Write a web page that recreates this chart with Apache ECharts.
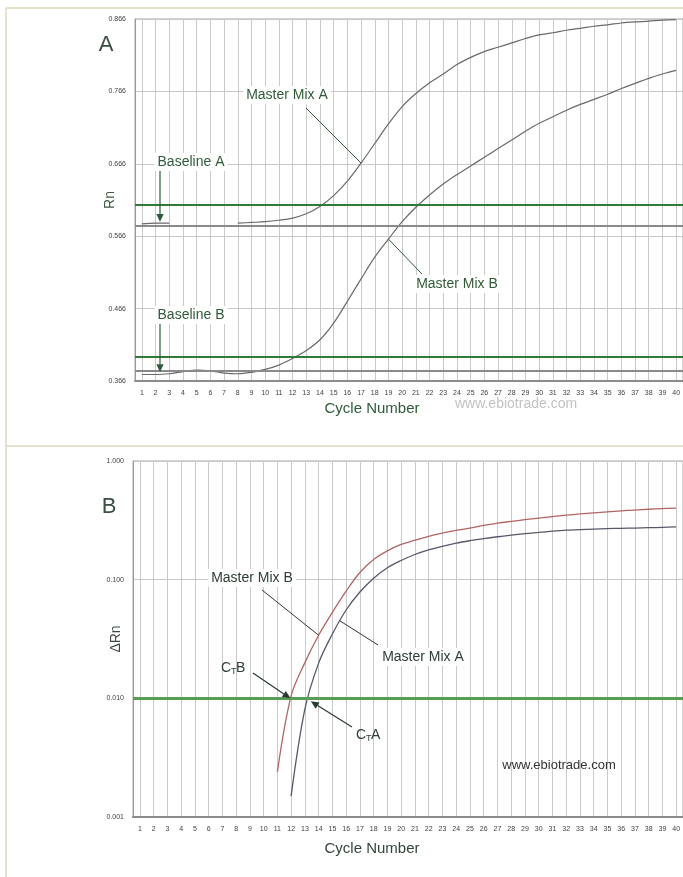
<!DOCTYPE html>
<html>
<head>
<meta charset="utf-8">
<script src="https://cdn.jsdelivr.net/npm/echarts@6/dist/echarts.min.js"></script>
<style>
  html, body { margin: 0; padding: 0; background: #fff; overflow: hidden; }
  #chart { width: 683px; height: 877px; }
</style>
</head>
<body>
<div id="chart"></div>
<script>
// Cycle numbers shared by both amplification plots
const cycles = ['1','2','3','4','5','6','7','8','9','10','11','12','13','14','15','16','17','18','19','20',
                '21','22','23','24','25','26','27','28','29','30','31','32','33','34','35','36','37','38','39','40'];

// Panel A: raw reporter signal (Rn)
const rnTicks = [0.366, 0.466, 0.566, 0.666, 0.766, 0.866];
const rnMixA = [0.583, 0.584, 0.584, null, null, null, null, 0.584, 0.585, 0.586,
                0.588, 0.591, 0.597, 0.607, 0.622, 0.642, 0.667, 0.694, 0.721, 0.745,
                0.763, 0.778, 0.790, 0.803, 0.813, 0.821, 0.827, 0.833, 0.839, 0.844,
                0.847, 0.8505, 0.853, 0.856, 0.858, 0.8605, 0.862, 0.863, 0.8645, 0.865];
const rnMixB = [0.375, 0.375, 0.376, 0.379, 0.381, 0.380, 0.377, 0.376, 0.378, 0.382,
                0.388, 0.397, 0.408, 0.423, 0.446, 0.476, 0.507, 0.537, 0.562, 0.586,
                0.606, 0.623, 0.638, 0.651, 0.663, 0.675, 0.687, 0.699, 0.711, 0.722,
                0.731, 0.740, 0.748, 0.755, 0.762, 0.770, 0.777, 0.784, 0.790, 0.795];
const rnThresholdA = 0.608;
const rnBaselineA = 0.5842;
const rnThresholdB = 0.399;
const rnBaselineB = 0.3766;

// Panel B: normalised signal (ΔRn), log scale
const dRnMixA = [null, null, null, null, null, null, null, null, null, null,
                 null, 0.0015, 0.0081, 0.0198, 0.0348, 0.0555, 0.0787, 0.103, 0.126, 0.145,
                 0.163, 0.178, 0.191, 0.203, 0.213, 0.222, 0.230, 0.237, 0.244, 0.250,
                 0.256, 0.261, 0.264, 0.267, 0.269, 0.271, 0.272, 0.274, 0.276, 0.278];
const dRnMixB = [null, null, null, null, null, null, null, null, null, null,
                 0.0024, 0.0105, 0.020, 0.034, 0.053, 0.080, 0.115, 0.148, 0.175, 0.198,
                 0.215, 0.232, 0.247, 0.260, 0.272, 0.287, 0.299, 0.310, 0.320, 0.330,
                 0.340, 0.350, 0.358, 0.366, 0.373, 0.380, 0.386, 0.392, 0.397, 0.401];
const dRnThreshold = 0.0098;
const dRnBaseline = 0.0015;

const FONT = 'Liberation Sans, Arial, sans-serif';
const GREEN = '#2f7a3a';
const TEXT_GREEN = '#2f5a37';
const GRID = '#cacaca';

const chart = echarts.init(document.getElementById('chart'), null, { renderer: 'canvas' });

function xAxisFor(g) {
  return {
    type: 'category', gridIndex: g, data: cycles, boundaryGap: true,
    axisLine: { lineStyle: { color: '#8c8c8c', width: 2 } },
    axisTick: { show: false },
    axisLabel: { interval: 0, fontSize: 7, color: '#3e3e3e', margin: 9, fontFamily: FONT },
    splitLine: { show: true, interval: 0, alignWithLabel: true, lineStyle: { color: GRID, width: 1 } }
  };
}

const option = {
  animation: false,
  backgroundColor: '#ffffff',
  grid: [
    { left: 135, top: 19, width: 556, height: 362, show: true, borderColor: '#a8a8a8', borderWidth: 1 },
    { left: 133, top: 461, width: 562, height: 356, show: true, borderColor: '#a8a8a8', borderWidth: 1 }
  ],
  xAxis: [xAxisFor(0), xAxisFor(1)],
  yAxis: [
    {
      type: 'value', gridIndex: 0, min: 0.366, max: 0.866,
      name: 'Rn', nameLocation: 'middle', nameGap: 18, nameRotate: 90, nameMoveOverlap: false,
      nameTextStyle: { fontSize: 14, color: '#3d5a45', fontFamily: FONT },
      axisLine: { show: true, lineStyle: { color: '#9a9a9a', width: 1 } },
      axisTick: { show: false, customValues: rnTicks },
      axisLabel: { customValues: rnTicks, formatter: v => v.toFixed(3), fontSize: 7, color: '#3e3e3e', margin: 9, fontFamily: FONT },
      splitLine: { show: true, lineStyle: { color: GRID, width: 1 } }
    },
    {
      type: 'log', gridIndex: 1, logBase: 10, min: 0.001, max: 1,
      name: 'ΔRn', nameLocation: 'middle', nameGap: 10, nameRotate: 90, nameMoveOverlap: false,
      nameTextStyle: { fontSize: 14, color: '#3f4a44', fontFamily: FONT },
      axisLine: { show: true, lineStyle: { color: '#9a9a9a', width: 1 } },
      axisTick: { show: false },
      axisLabel: { formatter: v => Number(v).toFixed(3), fontSize: 7, color: '#3e3e3e', margin: 9, fontFamily: FONT },
      splitLine: { show: true, lineStyle: { color: GRID, width: 1 } }
    }
  ],
  series: [
    {
      name: 'Master Mix A', type: 'line', xAxisIndex: 0, yAxisIndex: 0, data: rnMixA,
      showSymbol: false, smooth: 0.35, connectNulls: false, lineStyle: { color: '#6a6a6a', width: 1.2 }, z: 3,
      markLine: {
        silent: true, symbol: ['none', 'none'], label: { show: false }, animation: false,
        data: [
          { yAxis: rnThresholdA, lineStyle: { color: GREEN, width: 2, type: 'solid' } },
          { yAxis: rnBaselineA, lineStyle: { color: '#8a8a8a', width: 2, type: 'solid' } }
        ]
      }
    },
    {
      name: 'Master Mix B', type: 'line', xAxisIndex: 0, yAxisIndex: 0, data: rnMixB,
      showSymbol: false, smooth: 0.35, lineStyle: { color: '#6a6a6a', width: 1.2 }, z: 3,
      markLine: {
        silent: true, symbol: ['none', 'none'], label: { show: false }, animation: false,
        data: [
          { yAxis: rnThresholdB, lineStyle: { color: GREEN, width: 2, type: 'solid' } },
          { yAxis: rnBaselineB, lineStyle: { color: '#8a8a8a', width: 2, type: 'solid' } }
        ]
      }
    },
    {
      name: 'Master Mix A ΔRn', type: 'line', xAxisIndex: 1, yAxisIndex: 1, data: dRnMixA,
      showSymbol: false, smooth: 0.35, lineStyle: { color: '#55586a', width: 1.3 }, z: 3,
      markLine: {
        silent: true, symbol: ['none', 'none'], label: { show: false }, animation: false,
        data: [
          { yAxis: dRnThreshold, lineStyle: { color: '#5a9e55', width: 3, type: 'solid' } },
          { yAxis: dRnBaseline, lineStyle: { color: '#1f4a2a', width: 3, type: 'solid' } }
        ]
      }
    },
    {
      name: 'Master Mix B ΔRn', type: 'line', xAxisIndex: 1, yAxisIndex: 1, data: dRnMixB,
      showSymbol: false, smooth: 0.35, lineStyle: { color: '#b26464', width: 1.3 }, z: 3
    }
  ]
};
chart.setOption(option);

// ---- annotations (callouts, arrows, titles, frame) ----
const P = (g, i, v) => chart.convertToPixel({ gridIndex: g }, [i, v]);
const Y = (g, v) => chart.convertToPixel({ yAxisIndex: g }, v);

function text(str, x, y, opts) {
  opts = opts || {};
  return {
    type: 'text', x: x, y: y, z: 100,
    style: {
      text: str, fill: opts.fill || TEXT_GREEN,
      font: (opts.size || 14) + 'px ' + FONT,
      align: opts.align || 'center', verticalAlign: 'middle',
      backgroundColor: opts.bg || null, padding: opts.bg ? [2, 3] : 0
    }
  };
}
function seg(x1, y1, x2, y2, color, w) {
  return { type: 'line', z: 99, shape: { x1: x1, y1: y1, x2: x2, y2: y2 }, style: { stroke: color, lineWidth: w || 1 } };
}
function arrow(x1, y1, x2, y2, color, size) {
  size = size || 8;
  const a = Math.atan2(y2 - y1, x2 - x1);
  const w = size * 0.45;
  const bx = x2 - size * Math.cos(a), by = y2 - size * Math.sin(a);
  return [
    seg(x1, y1, bx, by, color, 1.2),
    { type: 'polygon', z: 99, shape: { points: [[x2, y2], [bx + w * Math.sin(a), by - w * Math.cos(a)], [bx - w * Math.sin(a), by + w * Math.cos(a)]] }, style: { fill: color } }
  ];
}
// pixel x where a series crosses a value on the log panel
function crossX(g, arr, thr) {
  for (let i = 1; i < arr.length; i++) {
    if (arr[i - 1] != null && arr[i] != null && arr[i - 1] < thr && arr[i] >= thr) {
      const t = (Math.log10(thr) - Math.log10(arr[i - 1])) / (Math.log10(arr[i]) - Math.log10(arr[i - 1]));
      const p0 = P(g, i - 1, arr[i - 1]), p1 = P(g, i, arr[i]);
      return p0[0] + t * (p1[0] - p0[0]);
    }
  }
  return null;
}

const els = [];
// frame
const BEIGE = '#e6e1cb';
els.push(seg(6, 8, 6, 877, BEIGE, 2), seg(6, 8, 683, 8, BEIGE, 2), seg(6, 446, 683, 446, BEIGE, 2));

// panel A
els.push(text('A', 106, 45, { size: 22, fill: '#3b4d41' }));
const pA = P(0, 16, rnMixA[16]);
els.push(seg(306, 108, pA[0], pA[1], TEXT_GREEN, 1));
els.push(text('Master Mix A', 287, 95, { bg: '#fff' }));
const pB = P(0, 18, rnMixB[18]);
els.push(seg(422, 274, pB[0], pB[1], TEXT_GREEN, 1));
els.push(text('Master Mix B', 457, 284, { bg: '#fff' }));
els.push(text('Baseline A', 191, 162, { bg: '#fff' }));
els.push(...arrow(160, 170, 160, Y(0, rnBaselineA) - 1, '#2f5a37', 8));
els.push(text('Baseline B', 191, 315, { bg: '#fff' }));
els.push(...arrow(160, 324, 160, Y(0, rnBaselineB) - 1, '#2f5a37', 8));
els.push(text('Cycle Number', 372, 409, { size: 15, fill: '#2f5a37' }));
els.push(text('www.ebiotrade.com', 516, 404, { size: 14, fill: '#c2c2c2' }));

// panel B
els.push(text('B', 109, 507, { size: 22, fill: '#3b4d41' }));
const qB = P(1, 13, dRnMixB[13]);
els.push(seg(262, 590, qB[0], qB[1], '#333', 1));
els.push(text('Master Mix B', 252, 578, { bg: '#fff', fill: '#2f3d34' }));
const q15 = P(1, 14, dRnMixA[14]), q16 = P(1, 15, dRnMixA[15]);
const qA = [q15[0] + 0.55 * (q16[0] - q15[0]), q15[1] + 0.55 * (q16[1] - q15[1])];
els.push(seg(378, 645, qA[0], qA[1], '#333', 1));
els.push(text('Master Mix A', 423, 657, { bg: '#fff', fill: '#2f3d34' }));

const thrY = Y(1, dRnThreshold);
const ctB = crossX(1, dRnMixB, dRnThreshold);
const ctA = crossX(1, dRnMixA, dRnThreshold);
els.push(...arrow(253, 673, ctB, thrY - 1, '#2a3a30', 8));
els.push(...arrow(352, 727, ctA + 3, thrY + 2, '#2a3a30', 8));
// C_T B
els.push(text('C', 221, 668, { align: 'left', fill: '#2f3d34' }));
els.push(text('T', 231, 672, { align: 'left', size: 9, fill: '#2f3d34' }));
els.push(text('B', 236, 668, { align: 'left', fill: '#2f3d34' }));
// C_T A
els.push(text('C', 356, 735, { align: 'left', fill: '#2f3d34' }));
els.push(text('T', 366, 739, { align: 'left', size: 9, fill: '#2f3d34' }));
els.push(text('A', 371, 735, { align: 'left', fill: '#2f3d34' }));

els.push(text('Cycle Number', 372, 849, { size: 15, fill: '#34463a' }));
els.push(text('www.ebiotrade.com', 559, 765, { size: 13, fill: '#333' }));

chart.setOption({ graphic: { elements: els } });
</script>
</body>
</html>
